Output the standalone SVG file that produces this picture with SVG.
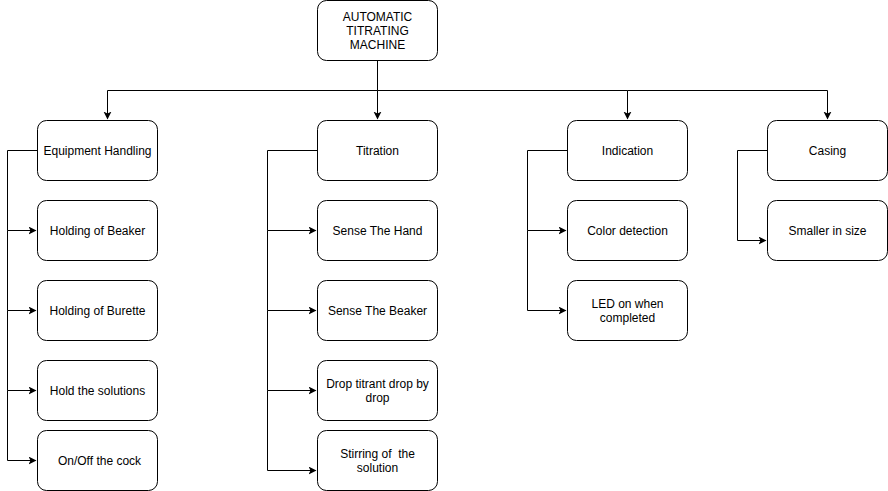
<svg xmlns="http://www.w3.org/2000/svg" width="888" height="491" viewBox="0 0 888 491">
<defs>
<marker id="arr" markerWidth="10" markerHeight="10" refX="7" refY="4" orient="auto" markerUnits="userSpaceOnUse">
<path d="M0,0 L8,4 L0,8 L2,4 Z" fill="#000"/>
</marker>
<style>
.box{fill:#fff;stroke:#000;stroke-width:1}
.t{font-family:"Liberation Sans",Arial,sans-serif;font-size:12px;fill:#000;text-anchor:middle;white-space:pre}
.c{fill:none;stroke:#000;stroke-width:1}
</style>
</defs>
<rect width="888" height="491" fill="#fff"/>
<g id="connectors">
<path class="c" d="M377.5,60.5 V90.5 H107.5 V118.5" marker-end="url(#arr)"/>
<path class="c" d="M377.5,90.5 V118.5" marker-end="url(#arr)"/>
<path class="c" d="M377.5,90.5 H627.5 V118.5" marker-end="url(#arr)"/>
<path class="c" d="M627.5,90.5 H827.5 V118.5" marker-end="url(#arr)"/>
<path class="c" d="M37.5,150.5 H7.5 V230.5 H35.5" marker-end="url(#arr)"/>
<path class="c" d="M7.5,230.5 V310.5 H35.5" marker-end="url(#arr)"/>
<path class="c" d="M7.5,310.5 V390.5 H35.5" marker-end="url(#arr)"/>
<path class="c" d="M7.5,390.5 V460.5 H35.5" marker-end="url(#arr)"/>
<path class="c" d="M317.5,150.5 H267.5 V230.5 H315.5" marker-end="url(#arr)"/>
<path class="c" d="M267.5,230.5 V310.5 H315.5" marker-end="url(#arr)"/>
<path class="c" d="M267.5,310.5 V390.5 H315.5" marker-end="url(#arr)"/>
<path class="c" d="M267.5,390.5 V470.5 H315.5" marker-end="url(#arr)"/>
<path class="c" d="M567.5,150.5 H527.5 V230.5 H565.5" marker-end="url(#arr)"/>
<path class="c" d="M527.5,230.5 V310.5 H565.5" marker-end="url(#arr)"/>
<path class="c" d="M767.5,150.5 H737.5 V240.5 H765.5" marker-end="url(#arr)"/>
</g>
<g id="root">
<rect class="box" x="317.5" y="0.5" width="120" height="60" rx="9"/>
<text class="t" x="377.5" y="21">AUTOMATIC</text>
<text class="t" x="377.5" y="35">TITRATING</text>
<text class="t" x="377.5" y="49">MACHINE</text>
</g>
<g id="equipment">
<rect class="box" x="37.5" y="120.5" width="120" height="60" rx="9"/>
<text class="t" x="97.5" y="155">Equipment Handling</text>
</g>
<g id="beaker">
<rect class="box" x="37.5" y="200.5" width="120" height="60" rx="9"/>
<text class="t" x="97.5" y="235">Holding of Beaker</text>
</g>
<g id="burette">
<rect class="box" x="37.5" y="280.5" width="120" height="60" rx="9"/>
<text class="t" x="97.5" y="315">Holding of Burette</text>
</g>
<g id="solutions">
<rect class="box" x="37.5" y="360.5" width="120" height="60" rx="9"/>
<text class="t" x="97.5" y="395">Hold the solutions</text>
</g>
<g id="cock">
<rect class="box" x="37.5" y="430.5" width="120" height="60" rx="9"/>
<text class="t" x="99.5" y="465">On/Off the cock</text>
</g>
<g id="titration">
<rect class="box" x="317.5" y="120.5" width="120" height="60" rx="9"/>
<text class="t" x="377.5" y="155">Titration</text>
</g>
<g id="hand">
<rect class="box" x="317.5" y="200.5" width="120" height="60" rx="9"/>
<text class="t" x="377.5" y="235">Sense The Hand</text>
</g>
<g id="sbeaker">
<rect class="box" x="317.5" y="280.5" width="120" height="60" rx="9"/>
<text class="t" x="377.5" y="315">Sense The Beaker</text>
</g>
<g id="drop">
<rect class="box" x="317.5" y="360.5" width="120" height="60" rx="9"/>
<text class="t" x="377.5" y="388">Drop titrant drop by</text>
<text class="t" x="377.5" y="402">drop</text>
</g>
<g id="stirring">
<rect class="box" x="317.5" y="430.5" width="120" height="60" rx="9"/>
<text class="t" x="377.5" y="458">Stirring of  the</text>
<text class="t" x="377.5" y="472">solution</text>
</g>
<g id="indication">
<rect class="box" x="567.5" y="120.5" width="120" height="60" rx="9"/>
<text class="t" x="627.5" y="155">Indication</text>
</g>
<g id="color">
<rect class="box" x="567.5" y="200.5" width="120" height="60" rx="9"/>
<text class="t" x="627.5" y="235">Color detection</text>
</g>
<g id="led">
<rect class="box" x="567.5" y="280.5" width="120" height="60" rx="9"/>
<text class="t" x="627.5" y="308">LED on when</text>
<text class="t" x="627.5" y="322">completed</text>
</g>
<g id="casing">
<rect class="box" x="767.5" y="120.5" width="120" height="60" rx="9"/>
<text class="t" x="827.5" y="155">Casing</text>
</g>
<g id="smaller">
<rect class="box" x="767.5" y="200.5" width="120" height="60" rx="9"/>
<text class="t" x="827.5" y="235">Smaller in size</text>
</g>
</svg>
